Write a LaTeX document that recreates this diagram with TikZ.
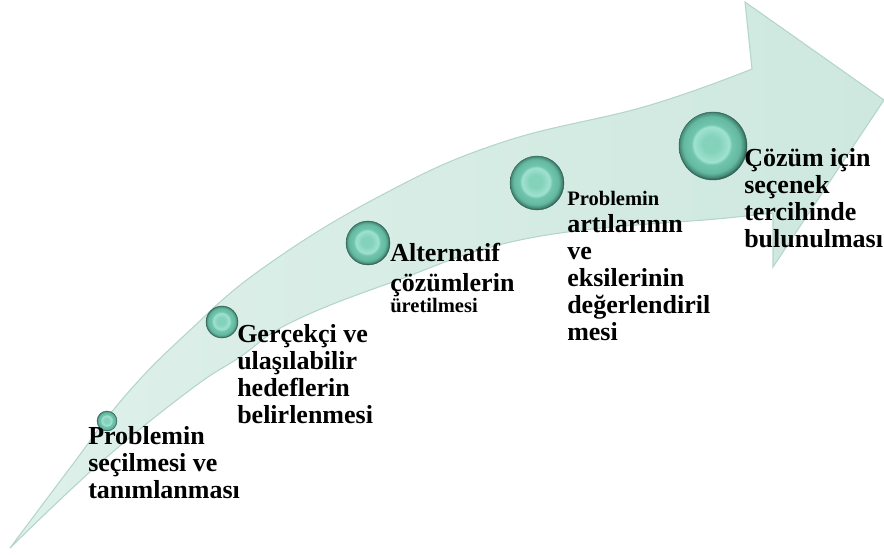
\documentclass[tikz,border=0pt]{standalone}
\usepackage{fontspec}
\setmainfont{Liberation Serif}
\definecolor{mintlight}{RGB}{222,240,234}
\definecolor{mintdark}{RGB}{206,232,223}
\definecolor{mintedge}{RGB}{180,214,202}
\definecolor{orbcore}{RGB}{132,210,186}
\definecolor{orbhi}{RGB}{160,226,207}
\definecolor{orbmid}{RGB}{112,198,172}
\definecolor{orblow}{RGB}{100,184,160}
\definecolor{orbdim}{RGB}{68,136,116}
\definecolor{orbrim}{RGB}{48,98,84}
\pgfdeclareradialshading{orbshade}{\pgfpoint{-1.5bp}{1.5bp}}{color(0bp)=(orbcore); color(6bp)=(orbcore); color(13bp)=(orbhi); color(15bp)=(orbmid); color(21bp)=(orblow); color(24bp)=(orbdim); color(25bp)=(orbrim); color(50bp)=(orbrim)}
\newcommand\smalltxt{\fontsize{15.4}{16}\selectfont}
\tikzset{
  orb/.style={circle, shading=orbshade, draw=orbrim, line width=0.3pt, inner sep=0pt},
  lbl/.style={anchor=base west, align=left, inner sep=0pt, font=\bfseries\fontsize{19.5}{20.25}\selectfont}
}
\begin{document}
\begin{tikzpicture}[x=0.75pt, y=-0.75pt]
\useasboundingbox (0,0) rectangle (884,555);
% the bent arrow
\draw[mintedge, line width=0.8pt, left color=mintlight, right color=mintdark]
  plot[smooth, tension=.7] coordinates {(10,548) (70,468) (125,396) (187,333) (263,268) (380,196) (500,143) (647,106) (752,69)}
  -- (745,2) -- (884,100) -- (773,267) -- (773,213)
  -- plot[smooth, tension=.7] coordinates {(773,213) (727,218) (530,238) (390,283) (290,323) (240,357) (190,390) (100,463) (10,548)}
  -- cycle;
% the steps
\node[orb, minimum size=15pt] (s1) at (107,421) {};
\node[orb, minimum size=24pt] (s2) at (222,322) {};
\node[orb, minimum size=33pt] (s3) at (368,243) {};
\node[orb, minimum size=40.5pt] (s4) at (537,183) {};
\node[orb, minimum size=51pt] (s5) at (713,146) {};
% base west sits on the last line
\node[lbl] (t1) at (88,498) {Problemin\\seçilmesi ve\\tanımlanması};
\node[lbl] (t2) at (237,423) {Gerçekçi ve\\ulaşılabilir\\hedeflerin\\belirlenmesi};
\node[lbl] (t3) at (390,313) {Alternatif\\[2pt]çözümlerin\\[-4pt]{\smalltxt üretilmesi}};
\node[lbl] (t4) at (567,341) {{\smalltxt Problemin}\\artılarının\\ve\\eksilerinin\\değerlendiril\\mesi};
\node[lbl] (t5) at (744,248) {Çözüm için\\seçenek\\tercihinde\\bulunulması};
\end{tikzpicture}
\end{document}
